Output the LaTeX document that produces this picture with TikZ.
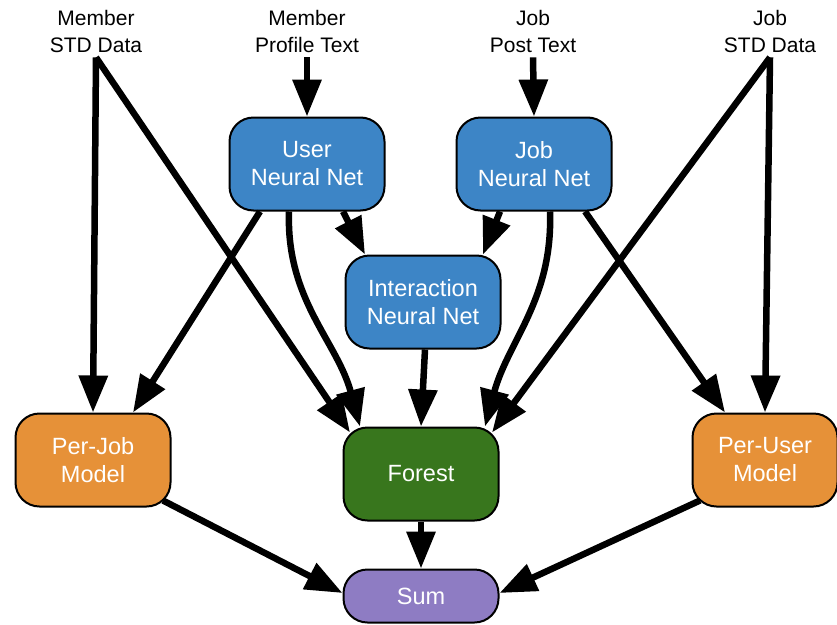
\documentclass[tikz,border=0pt]{standalone}
\usepackage{fontspec}
\setmainfont{Liberation Sans}
\usetikzlibrary{arrows.meta}
\definecolor{netblue}{HTML}{3D85C6}
\definecolor{modelorange}{HTML}{E69138}
\definecolor{forestgreen}{HTML}{38761D}
\definecolor{sumpurple}{HTML}{8E7CC3}

\begin{document}
\begin{tikzpicture}[x=1pt, y=-1pt,
    box/.style={draw=black, line width=2pt, rounded corners=24pt, text=white, align=center,
      minimum width=155pt, minimum height=93pt, font=\fontsize{23.5}{28}\selectfont},
    src/.style={align=center, inner sep=5pt, font=\fontsize{21}{27}\selectfont},
    flow/.style={line width=6.5pt, -{Triangle[length=37pt, width=28pt]}}]
        \useasboundingbox (0,0) rectangle (837,624);
        % inputs
        \node[src] (msd) at (96,31) {Member\\STD Data};
        \node[src] (mpt) at (307,31) {Member\\Profile Text};
        \node[src] (jpt) at (533,31) {Job\\Post Text};
        \node[src] (jsd) at (770,31) {Job\\STD Data};
        % boxes
        \node[box, fill=netblue] (unn) at (307,164) {User\\Neural Net};
        \node[box, fill=netblue] (jnn) at (534,164) {Job\\Neural Net};
        \node[box, fill=netblue] (inn) at (423,302) {Interaction\\Neural Net};
        \node[box, fill=modelorange] (pjm) at (93,460) {Per-Job\\Model};
        \node[box, fill=forestgreen] (forest) at (421,474) {Forest};
        \node[box, fill=modelorange, minimum width=145pt] (pum) at (765,460) {Per-User\\Model};
        \node[box, fill=sumpurple, minimum height=53pt] (sum) at (421,596) {Sum};
        % connectors
        \draw[flow] (msd.south) -- (pjm.north);
        \draw[flow] (msd.south) -- ([xshift=-71pt, yshift=-6pt]forest.north);
        \draw[flow] (mpt.south) -- (unn.north);
        \draw[flow] (jpt.south) -- (jnn.north);
        \draw[flow] (jsd.south) -- (pum.north);
        \draw[flow] (jsd.south) -- ([xshift=71pt, yshift=-6pt]forest.north);
        \draw[flow] ([xshift=-47pt]unn.south) -- ([xshift=40pt]pjm.north);
        \draw[flow] ([xshift=-18pt]unn.south) to[out=-92, in=105] ([xshift=-61pt]forest.north);
        \draw[flow] ([xshift=36pt]unn.south) -- ([xshift=-58pt]inn.north);
        \draw[flow] ([xshift=-34pt]jnn.south) -- ([xshift=60pt]inn.north);
        \draw[flow] ([xshift=16pt]jnn.south) to[out=-88, in=75] ([xshift=64pt]forest.north);
        \draw[flow] ([xshift=51pt]jnn.south) -- ([xshift=-40pt]pum.north);
        \draw[flow] ([xshift=2pt]inn.south) -- (forest.north);
        \draw[flow] ([xshift=70pt, yshift=7pt]pjm.south) -- ([yshift=3pt]sum.west);
        \draw[flow] (forest.south) -- (sum.north);
        \draw[flow] ([xshift=-65pt, yshift=7pt]pum.south) -- ([yshift=3pt]sum.east);
    \end{tikzpicture}
\end{document}
